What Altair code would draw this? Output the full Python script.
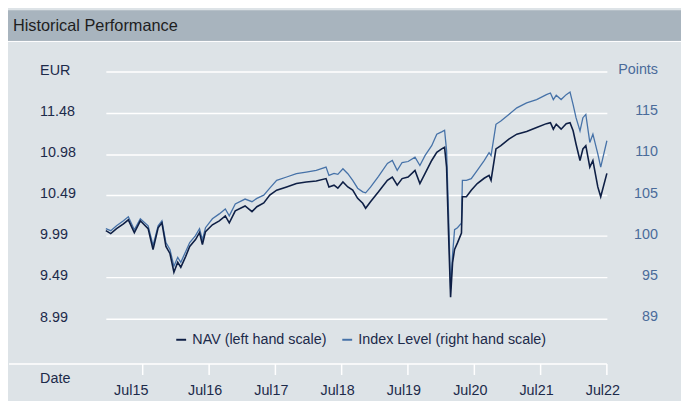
import altair as alt
import pandas as pd

FONT = "Liberation Sans"
PANEL = "#dde3e7"
BAR = "#a8b4be"
NAV_COLOR = "#0e1f45"
IDX_COLOR = "#4672a8"
LEFT_LABEL = "#1c2a4a"
RIGHT_LABEL = "#4a6b9a"

title_text = ["Historical Performance"]
series_names = ["NAV (left hand scale)", "Index Level (right hand scale)"]

dates = [
    "2015-01-04", "2015-01-31", "2015-03-04", "2015-04-11", "2015-05-08", "2015-06-10",
    "2015-07-13", "2015-08-25", "2015-09-21", "2015-10-19", "2015-11-09", "2015-12-01",
    "2015-12-23", "2016-01-14", "2016-02-04", "2016-02-21", "2016-03-19", "2016-04-10",
    "2016-05-12", "2016-06-03", "2016-06-19", "2016-07-06", "2016-08-13", "2016-09-20",
    "2016-10-23", "2016-11-14", "2016-12-17", "2017-02-09", "2017-03-19", "2017-04-15",
    "2017-05-23", "2017-06-25", "2017-08-02", "2017-09-26", "2017-11-19", "2018-01-12",
    "2018-03-08", "2018-05-01", "2018-05-17", "2018-06-14", "2018-07-05", "2018-08-02",
    "2018-08-29", "2018-09-25", "2018-10-22", "2018-11-19", "2018-12-05", "2019-01-01",
    "2019-02-14", "2019-04-04", "2019-05-01", "2019-05-28", "2019-06-24", "2019-07-27",
    "2019-09-03", "2019-09-30", "2019-10-28", "2019-12-04", "2020-01-01", "2020-01-28",
    "2020-02-13", "2020-02-24", "2020-03-06", "2020-03-17", "2020-03-28", "2020-04-08",
    "2020-04-24", "2020-05-16", "2020-05-21", "2020-06-12", "2020-07-09", "2020-08-11",
    "2020-09-18", "2020-10-15", "2020-10-26", "2020-11-22", "2020-12-19", "2021-02-01",
    "2021-03-17", "2021-05-10", "2021-07-04", "2021-08-27", "2021-09-18", "2021-10-04",
    "2021-10-20", "2021-11-16", "2021-12-14", "2022-01-04", "2022-01-21", "2022-02-06",
    "2022-02-28", "2022-03-16", "2022-04-01", "2022-04-23", "2022-05-10", "2022-06-06",
    "2022-06-22", "2022-07-26",
]

nav = [
    10.055, 10.019, 10.079, 10.138, 10.186, 10.031,
    10.174, 10.079, 9.827, 10.090, 10.150, 9.863,
    9.779, 9.552, 9.672, 9.612, 9.744, 9.863,
    9.947, 10.031, 9.887, 10.043, 10.126, 10.174,
    10.234, 10.150, 10.294, 10.354, 10.285, 10.345,
    10.390, 10.485, 10.545, 10.584, 10.625, 10.644,
    10.656, 10.685, 10.584, 10.605, 10.569, 10.644,
    10.584, 10.545, 10.446, 10.386, 10.326, 10.405,
    10.525, 10.665, 10.704, 10.605, 10.685, 10.704,
    10.784, 10.625, 10.745, 10.904, 11.003, 11.044,
    11.063, 10.824, 10.007, 9.250, 9.668, 9.827,
    9.907, 10.027, 10.465, 10.465, 10.545, 10.625,
    10.689, 10.724, 10.665, 11.044, 11.083, 11.163,
    11.223, 11.254, 11.302, 11.350, 11.362, 11.283,
    11.343, 11.283, 11.350, 11.362, 11.263, 11.104,
    10.904, 11.044, 11.083, 10.824, 10.904, 10.584,
    10.465, 10.748,
]

index_level = [
    100.92, 100.68, 101.28, 101.88, 102.36, 100.80,
    102.12, 101.28, 98.88, 101.28, 101.88, 99.24,
    98.40, 96.36, 97.44, 96.84, 98.16, 99.24,
    100.08, 100.92, 99.60, 101.04, 102.12, 102.72,
    103.32, 102.48, 103.92, 104.52, 104.20, 104.60,
    105.00, 105.84, 106.80, 107.20, 107.60, 107.80,
    108.00, 108.40, 107.40, 107.64, 107.52, 108.20,
    107.60, 106.80, 105.84, 105.40, 105.28, 105.96,
    107.28, 108.84, 109.20, 108.00, 108.96, 109.08,
    109.60, 108.60, 109.80, 111.00, 112.40, 112.68,
    112.88, 110.40, 102.60, 93.60, 97.80, 100.80,
    101.04, 101.60, 106.80, 106.80, 107.00, 108.00,
    109.20, 110.16, 109.80, 113.60, 114.00, 114.80,
    115.60, 116.20, 116.60, 117.20, 117.40, 116.60,
    117.12, 116.60, 117.20, 117.52, 116.00, 114.40,
    112.80, 114.40, 114.80, 111.40, 112.40, 110.00,
    108.40, 111.60,
]

tick_dates = ["2015-07-26", "2016-07-26", "2017-07-26", "2018-07-26",
              "2019-07-26", "2020-07-26", "2021-07-26", "2022-07-26"]
label_years = [2015, 2016, 2017, 2018, 2019, 2020, 2021, 2022]
left_ticks = [8.99, 9.49, 9.99, 10.49, 10.98, 11.48, 11.98]
right_ticks = [90, 95, 100, 105, 110, 115, 120]
right_labels = ["89", "95", "100", "105", "110", "115", "Points"]

W, H = 507, 296
PAD = {"left": 99, "top": 62, "right": 75, "bottom": 35}
RIGHT_DOMAIN = [84.48, 120]

df = pd.DataFrame({"date": dates, "nav": nav, "index": index_level})
ticks_df = pd.DataFrame({"date": tick_dates})
rlab_df = pd.DataFrame({"v": right_ticks, "lab": right_labels})
one_row = pd.DataFrame({"t": title_text})

x_scale = alt.Scale(
    type="utc",
    domain=[alt.DateTime(year=2015, month=1, date=4, utc=True),
            alt.DateTime(year=2022, month=7, date=26, utc=True)],
)
x_axis = alt.Axis(
    values=[alt.DateTime(year=y, month=7, date=1, utc=True) for y in label_years],
    labelExpr="'Jul' + utcFormat(datum.value, '%y')",
    ticks=False, domain=False, grid=False,
    labelPadding=30.5, labelBaseline="alphabetic", labelFontSize=14.5,
    labelColor=LEFT_LABEL, labelFont=FONT, labelFlush=False, labelOverlap=False,
    labelOffset=alt.condition("utcyear(datum.value) == 2015", alt.value(-7.5), alt.value(0)),
    title="Date", titleX=-67, titleY=15, titleAlign="left", titleBaseline="middle",
    titleFontWeight="normal", titleFontSize=14.5, titleColor=LEFT_LABEL, titleFont=FONT,
)
x_enc = alt.X("date:T", scale=x_scale, axis=x_axis)

color_enc = alt.Color(
    "series:N",
    scale=alt.Scale(domain=series_names, range=[NAV_COLOR, IDX_COLOR]),
    legend=alt.Legend(
        orient="none", legendX=69, legendY=264, direction="horizontal", title=None,
        symbolType="stroke", symbolSize=100, symbolStrokeWidth=2,
        labelFontSize=14.5, labelColor=LEFT_LABEL, labelFont=FONT, labelOffset=4,
        labelLimit=0, columnPadding=11, padding=0, offset=0,
    ),
)

nav_line = alt.Chart(df).transform_calculate(
    series="'NAV (left hand scale)'"
).mark_line(strokeWidth=1.6).encode(
    x=x_enc,
    y=alt.Y("nav:Q",
            scale=alt.Scale(domain=[8.44, 11.98], nice=False, zero=False),
            axis=alt.Axis(values=left_ticks, orient="left",
                          labelExpr="datum.value > 11.9 ? 'EUR' : format(datum.value, '.2f')",
                          ticks=False, tickSize=0, domain=False, grid=True,
                          gridColor="white", gridWidth=1.5,
                          labelAlign="left", labelPadding=67, labelBaseline="middle",
                          labelOffset=-1.5,
                          labelFontSize=14.5, labelColor=LEFT_LABEL, labelFont=FONT,
                          labelOverlap=False, labelFlush=False, title=None)),
    color=color_enc,
)

idx_line = alt.Chart(df).transform_calculate(
    series="'Index Level (right hand scale)'"
).mark_line(strokeWidth=1.3).encode(
    x=x_enc,
    y=alt.Y("index:Q", scale=alt.Scale(domain=RIGHT_DOMAIN, nice=False, zero=False), axis=None),
    color=color_enc,
)

right_axis_labels = alt.Chart(rlab_df).mark_text(
    align="right", baseline="middle", fontSize=14.5, color=RIGHT_LABEL, font=FONT, dy=-1.5
).encode(
    x=alt.value(W + 51.7),
    y=alt.Y("v:Q", scale=alt.Scale(domain=RIGHT_DOMAIN, nice=False, zero=False), axis=None),
    text="lab:N",
)

tick_marks = alt.Chart(ticks_df).mark_rule(color="white", strokeWidth=1.5).encode(
    x=x_enc, y=alt.value(H), y2=alt.value(H + 11)
)

base_line = alt.Chart(one_row).mark_rule(color="white", strokeWidth=1.5).encode(
    x=alt.value(-98), x2=alt.value(W), y=alt.value(H)
)

title_bar = alt.Chart(one_row).mark_rect(color=BAR).encode(
    x=alt.value(-99), x2=alt.value(W + 75), y=alt.value(-62), y2=alt.value(-31)
)
separator = alt.Chart(one_row).mark_rule(color="white", strokeWidth=1).encode(
    x=alt.value(-99), x2=alt.value(W + 75), y=alt.value(-30.5)
)
title_label = alt.Chart(one_row).mark_text(
    align="left", baseline="middle", fontSize=16.5, color="#1e1e1e", font=FONT
).encode(x=alt.value(-94), y=alt.value(-46), text="t:N")

chart = alt.layer(
    title_bar, separator, title_label, base_line, tick_marks,
    right_axis_labels, idx_line, nav_line
).resolve_scale(y="independent").properties(
    width=W, height=H, padding=PAD,
    autosize=alt.AutoSizeParams(type="none"),
    background=PANEL,
).configure_view(stroke=None)

chart.save("out.html", embed_options={"renderer": "svg", "actions": False})
